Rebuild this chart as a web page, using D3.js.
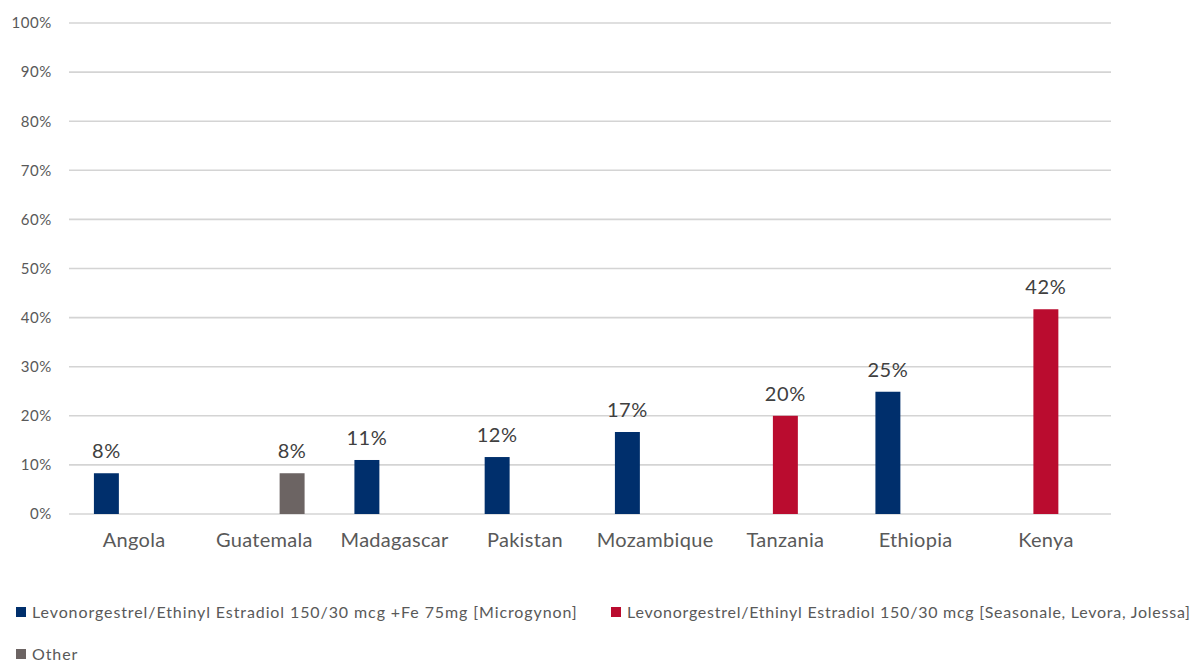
<!DOCTYPE html>
<html>
<head>
<meta charset="utf-8">
<script src="https://cdn.jsdelivr.net/npm/d3@7"></script>
<style>
  body { margin: 0; background: #fff; }
  text { font-family: Lato, "Open Sans", sans-serif; }
</style>
</head>
<body>
<div id="chart"></div>
<script>
const width = 1201;
const height = 662;

const countries = ["Angola","Guatemala","Madagascar","Pakistan","Mozambique","Tanzania","Ethiopia","Kenya"];
const seriesNames = [
  "Levonorgestrel/Ethinyl Estradiol 150/30 mcg +Fe 75mg [Microgynon]",
  "Levonorgestrel/Ethinyl Estradiol 150/30 mcg [Seasonale, Levora, Jolessa]",
  "Other"
];
const colors = ["#002f6c","#ba0c2f","#6c6463"];
// one value per country, null where the series has no bar
const microgynon = [8.3, null, 11.0, 11.6, 16.7, null, 24.9, null];
const seasonale  = [null, null, null, null, null, 20.0, null, 41.7];
const other      = [null, 8.3, null, null, null, null, null, null];
const yTicks = [0,10,20,30,40,50,60,70,80,90,100];

const seriesValues = [microgynon, seasonale, other];

const margin = {top: 23, left: 69, right: 90, bottom: 148};
const plotW = width - margin.left - margin.right;
const plotH = height - margin.top - margin.bottom;

const svg = d3.select("#chart").append("svg")
  .attr("width", width)
  .attr("height", height);

const g = svg.append("g")
  .attr("transform", "translate(" + margin.left + "," + margin.top + ")");

const x0 = d3.scaleBand()
  .domain(countries)
  .range([0, plotW])
  .paddingInner(0.34)
  .paddingOuter(0.17);

const x1 = d3.scaleBand()
  .domain([0,1,2])
  .range([0, x0.bandwidth()])
  .padding(0.1);

const y = d3.scaleLinear()
  .domain([0, 100])
  .range([plotH, 0]);

// gridlines
g.selectAll(".grid")
  .data(yTicks)
  .enter()
  .append("line")
  .attr("class","grid")
  .attr("x1", 0)
  .attr("x2", plotW)
  .attr("y1", d => y(d))
  .attr("y2", d => y(d))
  .attr("stroke", "#d4d4d4")
  .attr("stroke-width", 1.6);

// y axis labels
const yAxis = d3.axisLeft(y)
  .tickValues(yTicks)
  .tickSize(0)
  .tickPadding(17)
  .tickFormat(d => d + "%");

g.append("g")
  .call(yAxis)
  .call(a => a.select(".domain").remove())
  .selectAll("text")
  .attr("fill", "#595959")
  .style("font-size", "15px")
  .style("letter-spacing", "0.6px");

// x axis labels
const xAxis = d3.axisBottom(x0).tickSize(0).tickPadding(19);
g.append("g")
  .attr("transform", "translate(0," + plotH + ")")
  .call(xAxis)
  .call(a => a.select(".domain").remove())
  .selectAll("text")
  .attr("fill", "#595959")
  .style("font-size", "20px")
  .style("letter-spacing", "0.3px");

// bars
const bars = [];
countries.forEach((c, i) => {
  seriesValues.forEach((vals, s) => {
    if (vals[i] !== null) bars.push({country: c, series: s, value: vals[i]});
  });
});

g.selectAll(".bar")
  .data(bars)
  .enter()
  .append("rect")
  .attr("class","bar")
  .attr("x", d => x0(d.country) + x1(d.series))
  .attr("y", d => y(d.value))
  .attr("width", x1.bandwidth())
  .attr("height", d => plotH - y(d.value))
  .attr("fill", d => colors[d.series]);

g.selectAll(".lbl")
  .data(bars)
  .enter()
  .append("text")
  .attr("class","lbl")
  .attr("x", d => x0(d.country) + x1(d.series) + x1.bandwidth()/2)
  .attr("y", d => y(d.value) - 15)
  .attr("text-anchor","middle")
  .attr("fill","#404040")
  .style("font-size","20px")
  .style("letter-spacing","0.6px")
  .text(d => Math.round(d.value) + "%");

// legend
const legendPos = [[16, 612], [611, 612], [16, 654]];
const legend = svg.selectAll(".legend")
  .data(seriesNames)
  .enter()
  .append("g")
  .attr("class","legend")
  .attr("transform", (d,i) => "translate(" + legendPos[i][0] + "," + legendPos[i][1] + ")");

legend.append("rect")
  .attr("x", 0)
  .attr("y", -5)
  .attr("width", 10)
  .attr("height", 10)
  .attr("fill", (d,i) => colors[i]);

legend.append("text")
  .attr("x", 16)
  .attr("y", 0)
  .attr("dy", "0.35em")
  .attr("fill", "#595959")
  .style("font-size", "16px")
  .style("letter-spacing", (d,i) => i === 1 ? "0.75px" : "0.9px")
  .text(d => d);
</script>
</body>
</html>
